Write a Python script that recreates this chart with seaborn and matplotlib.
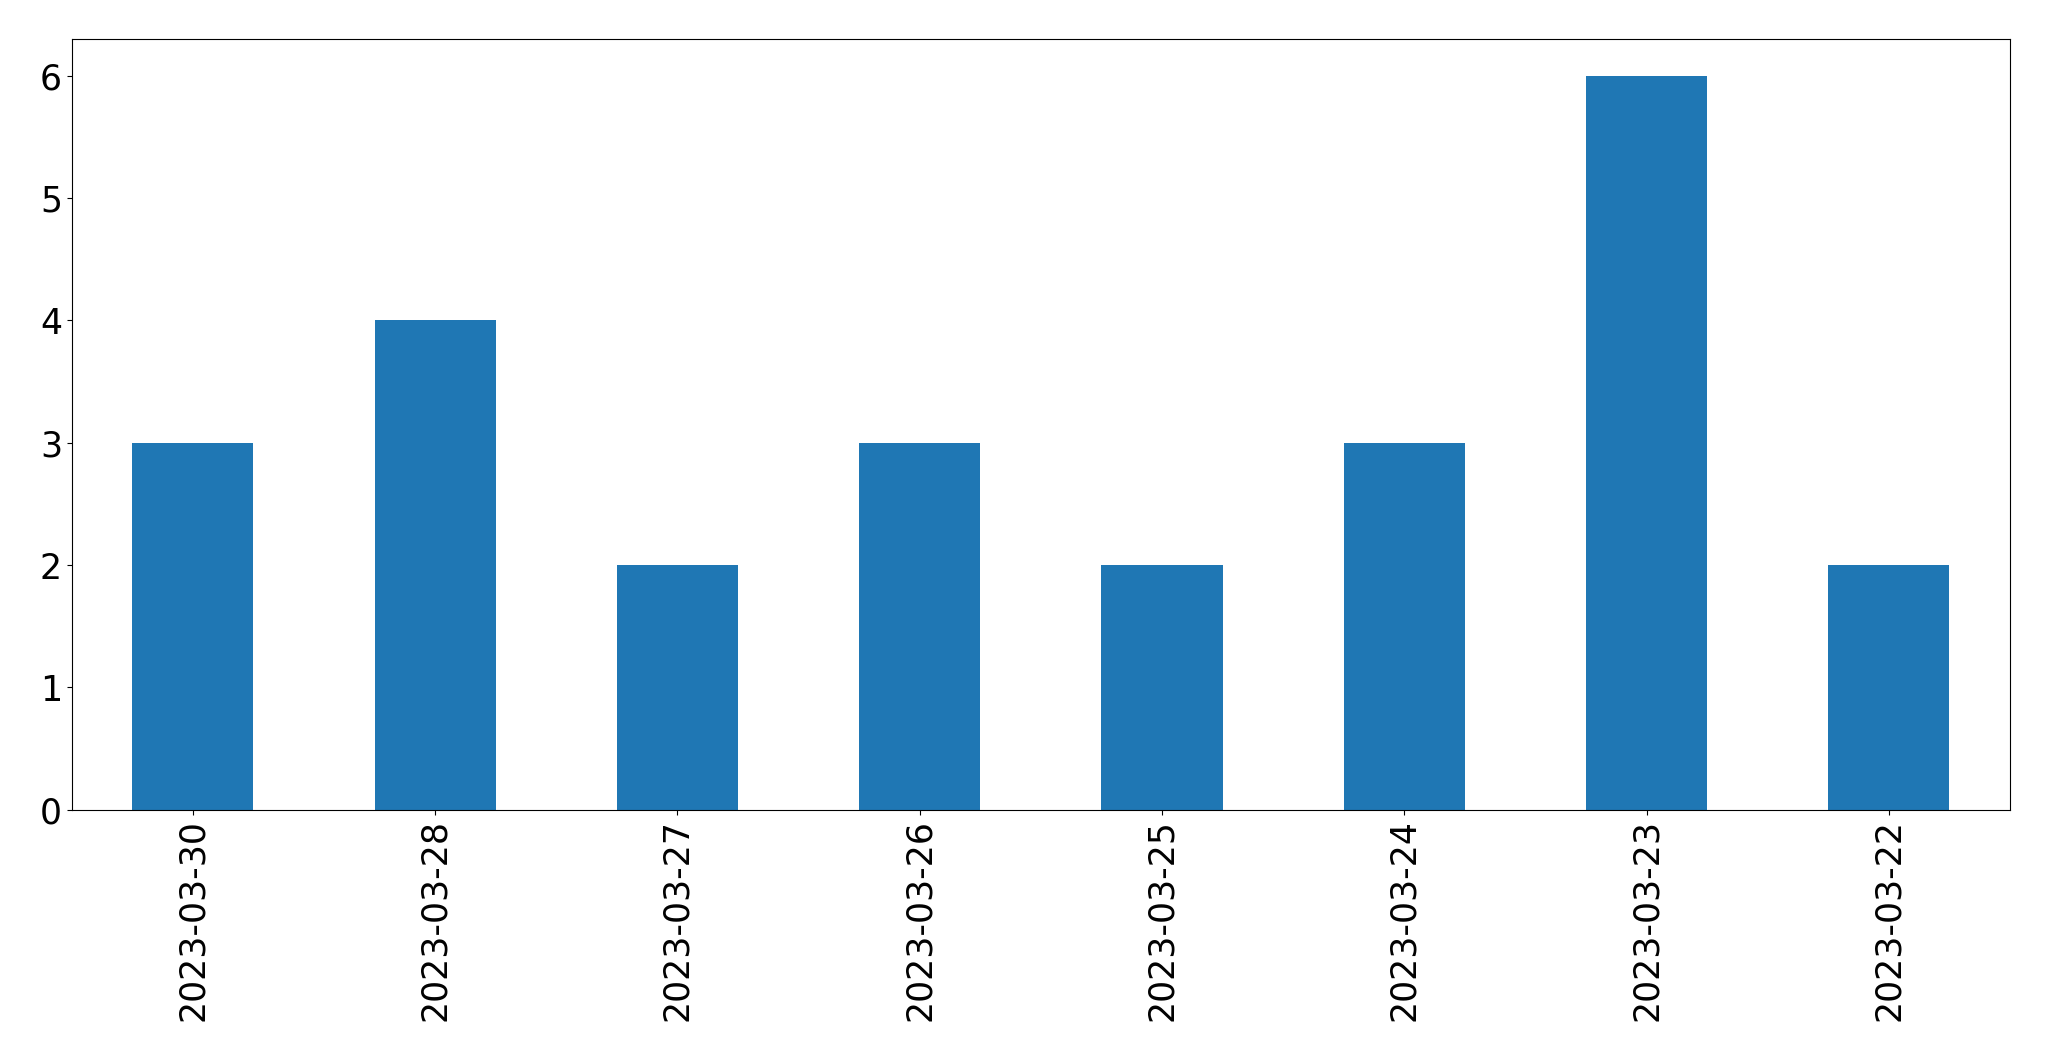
import matplotlib
matplotlib.use("Agg")
import matplotlib.pyplot as plt
import seaborn as sns
import pandas as pd

dates = ["2023-03-30", "2023-03-28", "2023-03-27", "2023-03-26",
         "2023-03-25", "2023-03-24", "2023-03-23", "2023-03-22"]
counts = [3, 4, 2, 3, 2, 3, 6, 2]

df = pd.DataFrame({"date": dates, "count": counts})

fig, ax = plt.subplots(figsize=(20.49, 10.61), dpi=100)
sns.barplot(data=df, x="date", y="count", color="#1f77b4", saturation=1,
            width=0.5, linewidth=0, ax=ax)
ax.set_xlim(-0.5, 7.5)
ax.set_xlabel("")
ax.set_ylabel("")
ax.tick_params(axis="both", labelsize=25)
ax.tick_params(axis="x", labelrotation=90)
plt.subplots_adjust(left=0.035, right=0.981, top=0.963, bottom=0.237)
plt.savefig("out.png")
